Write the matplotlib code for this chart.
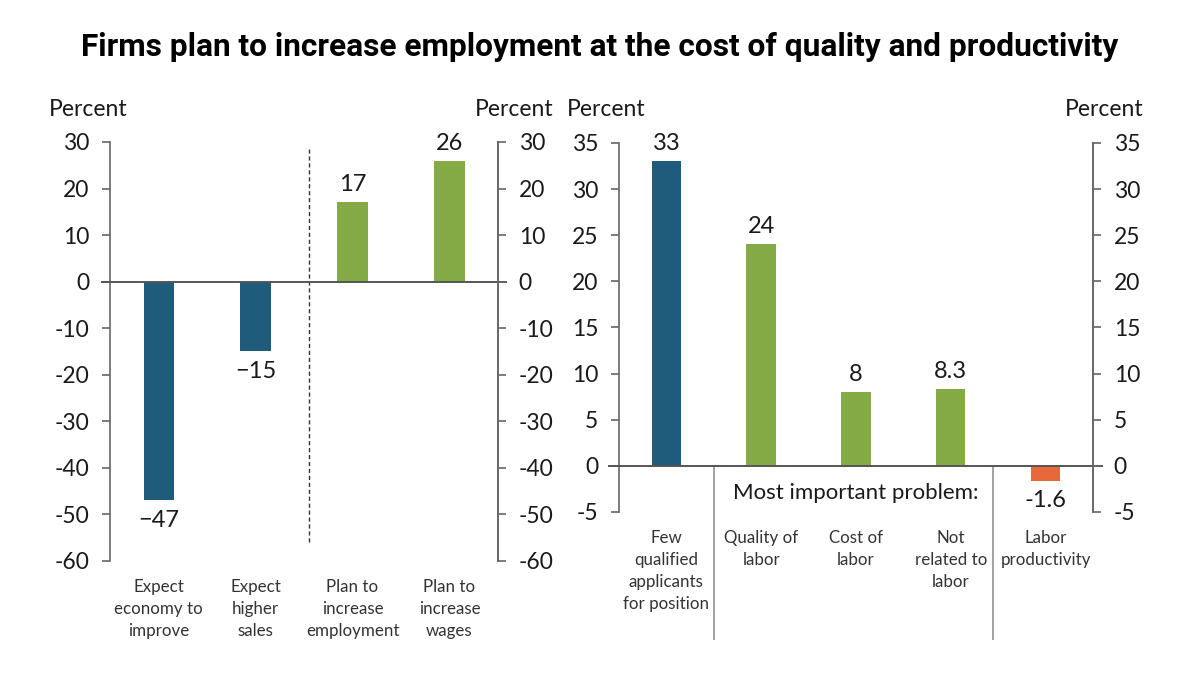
import matplotlib.pyplot as plt

plt.rcParams['font.family'] = ['Lato', 'DejaVu Sans']

# left panel: survey expectations / plans
left_labels = ["Expect\neconomy to\nimprove", "Expect\nhigher\nsales",
               "Plan to\nincrease\nemployment", "Plan to\nincrease\nwages"]
left_values = [-47, -15, 17, 26]
left_text = ["\u221247", "\u221215", "17", "26"]
left_colors = ["#1f5b7a", "#1f5b7a", "#84aa46", "#84aa46"]

# right panel: most important problem
right_labels = ["Few\nqualified\napplicants\nfor position", "Quality of\nlabor",
                "Cost of\nlabor", "Not\nrelated to\nlabor", "Labor\nproductivity"]
right_values = [33, 24, 8, 8.3, -1.6]
right_text = ["33", "24", "8", "8.3", "-1.6"]
right_colors = ["#1f5b7a", "#84aa46", "#84aa46", "#84aa46", "#e8683a"]

left_ticks = [30, 20, 10, 0, -10, -20, -30, -40, -50, -60]
right_ticks = [35, 30, 25, 20, 15, 10, 5, 0, -5]

spine_col = "#666666"
text_col = "#1a1a1a"
tick_fs = 16.5

fig = plt.figure(figsize=(12, 6.75), dpi=100)


def style_axes(ax, ylim, ticks, cats, n):
    ax.set_xlim(-0.5, n - 0.5)
    ax.set_ylim(*ylim)
    ax.set_yticks(ticks)
    ax.set_yticklabels([str(t) for t in ticks])
    for s in ["top", "bottom"]:
        ax.spines[s].set_visible(False)
    for s in ["left", "right"]:
        ax.spines[s].set_color(spine_col)
        ax.spines[s].set_linewidth(1.2)
    ax.tick_params(axis="y", direction="out", length=6, width=1.2,
                   color=spine_col, labelsize=tick_fs, labelcolor=text_col, pad=9)
    ax.set_xticks(range(n))
    ax.set_xticklabels(cats, fontsize=12.2, color="#333333", linespacing=1.45, va="top")
    ax.tick_params(axis="x", length=0, pad=13)
    ax.axhline(0, xmin=-0.022, xmax=1.02, color="#555555", lw=1.4, clip_on=False, zorder=3)
    twin = ax.twinx()
    twin.set_ylim(*ylim)
    twin.set_yticks(ticks)
    twin.set_yticklabels([str(t) for t in ticks])
    for s in ["top", "bottom", "left"]:
        twin.spines[s].set_visible(False)
    twin.spines["right"].set_color(spine_col)
    twin.spines["right"].set_linewidth(1.2)
    twin.tick_params(axis="y", direction="out", length=6, width=1.2,
                     color=spine_col, labelsize=tick_fs, labelcolor=text_col, pad=9)
    return twin


# left panel
ax1 = fig.add_axes([0.0917, 0.169, 0.3233, 0.6207])
style_axes(ax1, (-60, 30), left_ticks, left_labels, len(left_values))
ax1.bar(range(len(left_values)), left_values, width=0.31, color=left_colors, zorder=2)
for i, (v, t) in enumerate(zip(left_values, left_text)):
    off = 1.5 if v > 0 else -2
    ax1.text(i, v + off, t, ha="center", va="bottom" if v > 0 else "top",
             fontsize=17, color=text_col)
ax1.vlines(1.55, -56, 28.5, colors="#333333", linestyles=(0, (3, 2)), lw=1)

# right panel
ax2 = fig.add_axes([0.5158, 0.2415, 0.395, 0.5467])
style_axes(ax2, (-5, 35), right_ticks, right_labels, len(right_values))
ax2.bar(range(len(right_values)), right_values, width=0.31, color=right_colors, zorder=2)
for i, (v, t) in enumerate(zip(right_values, right_text)):
    off = 0.8 if v > 0 else -1.0
    ax2.text(i, v + off, t, ha="center", va="bottom" if v > 0 else "top",
             fontsize=17, color=text_col)
ax2.vlines([0.5, 3.45], -18.9, 0, colors="#9a9a9a", lw=1.3, clip_on=False)
ax2.text(2.0, -2.9, "Most important problem:", ha="center", va="center",
         fontsize=16, color=text_col)

# axis unit labels
fig.text(0.041, 0.838, "Percent", fontsize=tick_fs, color=text_col, va="center")
fig.text(0.396, 0.838, "Percent", fontsize=tick_fs, color=text_col, va="center")
fig.text(0.4725, 0.838, "Percent", fontsize=tick_fs, color=text_col, va="center")
fig.text(0.887, 0.838, "Percent", fontsize=tick_fs, color=text_col, va="center")

fig.text(0.5, 0.93, "Firms plan to increase employment at the cost of quality and productivity",
         ha="center", va="center", fontsize=22.8, fontweight="bold", family="Roboto",
         color="black")

fig.savefig("out.png", dpi=100)
